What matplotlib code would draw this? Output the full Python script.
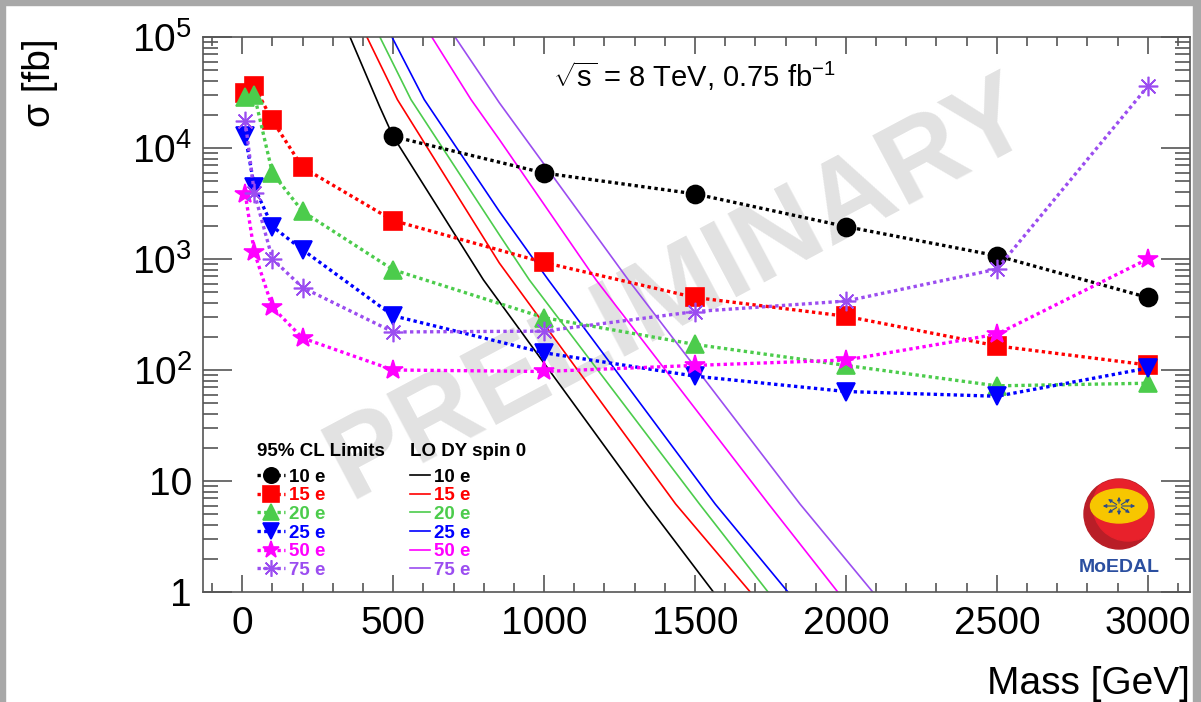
import matplotlib
matplotlib.use("Agg")
import matplotlib.pyplot as plt
from matplotlib.patches import Rectangle, Circle, Ellipse
from matplotlib.ticker import FixedLocator, FixedFormatter, MultipleLocator, LogLocator, NullFormatter

plt.rcParams['font.family'] = ['Liberation Sans', 'DejaVu Sans']
plt.rcParams['mathtext.fontset'] = 'custom'
plt.rcParams['mathtext.rm'] = 'Liberation Sans'
plt.rcParams['mathtext.it'] = 'Liberation Sans:italic'
plt.rcParams['mathtext.bf'] = 'Liberation Sans:bold'

# 95% CL limits [fb] vs monopole mass [GeV]
mass = [10, 40, 100, 200, 500, 1000, 1500, 2000, 2500, 3000]
mass_10e = [500, 1000, 1500, 2000, 2500, 3000]
limit_10e = [12700, 5950, 3860, 1960, 1070, 450]
limit_15e = [31300, 35900, 17700, 6690, 2220, 930, 450, 305, 165, 111]
limit_20e = [29000, 30000, 5950, 2680, 800, 296, 170, 110, 72, 76]
limit_25e = [12900, 4450, 1960, 1210, 308, 143, 88, 64, 58, 104]
limit_50e = [3850, 1150, 366, 194, 100, 97, 110, 123, 210, 1000]
limit_75e = [17400, 3930, 1000, 553, 220, 224, 336, 418, 810, 35900]

# LO Drell-Yan spin 0 cross sections [fb]
dy_mass_10e = [357, 455, 500, 799, 1340, 1561]
dy_xs_10e = [1e5, 2.37e4, 1.27e4, 649, 6.2, 1.0]
dy_mass_15e = [413, 514, 852, 1436, 1683]
dy_xs_15e = [1e5, 2.73e4, 918, 6.2, 1.0]
dy_mass_20e = [456, 559, 852, 951, 1515, 1742]
dy_xs_20e = [1e5, 2.73e4, 1650, 649, 6.2, 1.0]
dy_mass_25e = [496, 603, 852, 1014, 1567, 1808]
dy_xs_25e = [1e5, 2.73e4, 2680, 649, 6.2, 1.0]
dy_mass_50e = [628, 758, 852, 1172, 1744, 1973]
dy_xs_50e = [1e5, 2.73e4, 11900, 649, 6.2, 1.0]
dy_mass_75e = [705, 852, 1279, 1848, 2089]
dy_xs_75e = [1e5, 2.55e4, 649, 6.2, 1.0]

labels = ['10 e', '15 e', '20 e', '25 e', '50 e', '75 e']
colors = ['black', '#ff0000', '#4ccc4c', '#0000ff', '#ff00ff', '#9b4df0']
markers = ['o', 's', '^', 'v', '*', (8, 2, 0)]
msizes = [13, 13, 13, 13, 15, 14]

fig = plt.figure(figsize=(12.01, 7.02), dpi=100)
ax = fig.add_axes([203 / 1201, 1 - 592 / 702, 987 / 1201, 555 / 702])

limit_sets = [(mass_10e, limit_10e), (mass, limit_15e), (mass, limit_20e),
              (mass, limit_25e), (mass, limit_50e), (mass, limit_75e)]
dy_sets = [(dy_mass_10e, dy_xs_10e), (dy_mass_15e, dy_xs_15e), (dy_mass_20e, dy_xs_20e),
           (dy_mass_25e, dy_xs_25e), (dy_mass_50e, dy_xs_50e), (dy_mass_75e, dy_xs_75e)]

lim_handles = []
dy_handles = []
for (mx, my), (dx, dy), lab, c, mk, ms in zip(limit_sets, dy_sets, labels, colors, markers, msizes):
    h, = ax.plot(dx, dy, color=c, lw=1.2, zorder=2)
    dy_handles.append(h)
    h, = ax.plot(mx, my, color=c, lw=2.4, ls=(0, (1, 1)), marker=mk, ms=ms,
                 mfc=c, mec=c, mew=1.2, zorder=3)
    lim_handles.append(h)

ax.set_yscale('log')
ax.set_xlim(-130, 3140)
ax.set_ylim(1, 1e5)

ax.xaxis.set_major_locator(MultipleLocator(500))
ax.xaxis.set_minor_locator(MultipleLocator(100))
ax.yaxis.set_major_locator(FixedLocator([1, 10, 100, 1e3, 1e4, 1e5]))
ax.yaxis.set_major_formatter(FixedFormatter(['1', '10', '$10^{2}$', '$10^{3}$', '$10^{4}$', '$10^{5}$']))
ax.yaxis.set_minor_locator(LogLocator(base=10, subs=range(2, 10)))
ax.yaxis.set_minor_formatter(NullFormatter())

ax.tick_params(which='both', direction='in', top=True, right=True, color='#555555', width=1.2)
ax.tick_params(axis='x', which='major', length=12, labelsize=28, pad=10)
ax.tick_params(axis='x', which='minor', length=6.5)
ax.tick_params(axis='y', which='major', length=21, labelsize=28, pad=8)
ax.tick_params(axis='y', which='minor', length=10.5)
for s in ax.spines.values():
    s.set_color('#555555')
    s.set_linewidth(1.2)

fig.text(40 / 1201, 1 - 38 / 702, '\u03c3 [fb]', rotation=90, ha='center', va='top', fontsize=28)
fig.text(1190 / 1201, 1 - 666 / 702, 'Mass [GeV]', ha='right', va='top', fontsize=28)

ax.text(0.355, 0.93, r'$\sqrt{\mathrm{s}}$ = 8 TeV, 0.75 fb$^{\mathrm{-1}}$', transform=ax.transAxes,
        fontsize=21, ha='left', va='center')

ax.text(0.483, 0.544, 'PRELIMINARY', transform=ax.transAxes, rotation=28, fontsize=82,
        color='#e2e2e2', fontweight='bold', ha='center', va='center', zorder=0)

leg1 = ax.legend(lim_handles, labels, loc='upper left', bbox_to_anchor=(0.045, 0.285),
                 frameon=False, prop={'weight': 'bold', 'size': 13.5}, labelcolor=colors,
                 title='95% CL Limits', title_fontproperties={'weight': 'bold', 'size': 13.5},
                 alignment='left', borderpad=0, labelspacing=0.08, handlelength=1.5,
                 handletextpad=0.2, markerscale=0.85)
leg1._legend_box.sep = 6
ax.add_artist(leg1)
leg2 = ax.legend(dy_handles, labels, loc='upper left', bbox_to_anchor=(0.2, 0.285),
                 frameon=False, prop={'weight': 'bold', 'size': 13.5}, labelcolor=colors,
                 title='LO DY spin 0', title_fontproperties={'weight': 'bold', 'size': 13.5},
                 alignment='left', borderpad=0, labelspacing=0.08, handlelength=1.1,
                 handletextpad=0.2)
leg2._legend_box.sep = 6

# MoEDAL logo
lax = fig.add_axes([1075 / 1201, 1 - 580 / 702, 90 / 1201, 105 / 702])
lax.set_xlim(1075, 1165)
lax.set_ylim(580, 475)
lax.axis('off')
ball = Circle((1119, 514), 35, color='#b91e27')
lax.add_patch(ball)
light = Circle((1128, 506), 35, color='#e8212b')
lax.add_patch(light)
light.set_clip_path(ball)
lax.add_patch(Ellipse((1119, 506), 57, 34, color='#f7c600'))
for ddx, ddy in [(1, 0), (-1, 0), (0, 1), (0, -1), (0.7, 0.7), (-0.7, 0.7), (0.7, -0.7), (-0.7, -0.7)]:
    lax.annotate('', xy=(1119 + 19 * ddx, 506 + 12 * ddy), xytext=(1119, 506),
                 arrowprops=dict(arrowstyle='-|>', color='#2c4a8a', lw=0.8, mutation_scale=5))
lax.text(1119, 567, 'MoEDAL', ha='center', va='center', fontsize=14, fontweight='bold', color='#2b4fa0')

# screenshot border
for r in [(0, 1 - 5 / 702, 1, 5 / 702), (0, 0, 5 / 1201, 1), (1 - 8 / 1201, 0, 8 / 1201, 1)]:
    fig.patches.append(Rectangle(r[:2], r[2], r[3], transform=fig.transFigure,
                                 color='#a8a8a8', zorder=10))

fig.savefig('out.png', dpi=100)
